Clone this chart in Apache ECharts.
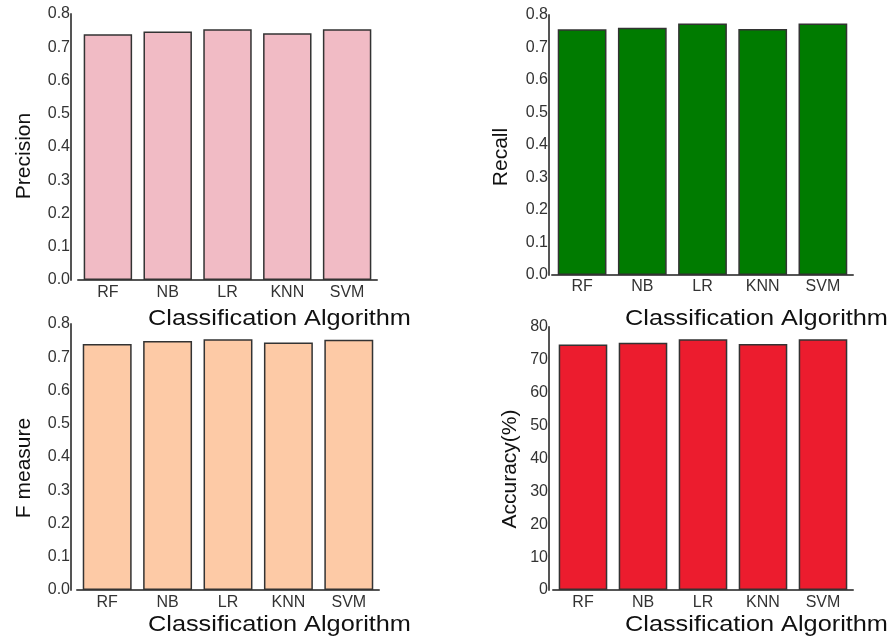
<!DOCTYPE html>
<html>
<head>
<meta charset="utf-8">
<script src="https://cdn.jsdelivr.net/npm/echarts@6/dist/echarts.min.js"></script>
<style>html,body{margin:0;padding:0;background:#fff}#c{width:896px;height:640px}</style>
</head>
<body>
<div id="c"></div>
<script>
const categories = ['RF', 'NB', 'LR', 'KNN', 'SVM'];
const precision = [0.739, 0.747, 0.754, 0.742, 0.754];
const recall = [0.756, 0.761, 0.774, 0.757, 0.774];
const fMeasure = [0.740, 0.749, 0.754, 0.744, 0.753];
const accuracy = [74.7, 75.2, 76.3, 74.8, 76.3];
const ratioTicks = { min: 0, max: 0.8, interval: 0.1 };
const accTicks = { min: 0, max: 80, interval: 10 };
const yNames = ['Precision', 'Recall', 'F measure', 'Accuracy(%)'];
const xName = 'Classification Algorithm';

const FONT = '"Liberation Sans", Arial, sans-serif';
const grids = [
  { left: 78, top: 14, width: 299, height: 266 },
  { left: 552, top: 15, width: 301, height: 260 },
  { left: 77, top: 324, width: 302, height: 266 },
  { left: 553, top: 327, width: 300, height: 263 }
];
const yOffsets = [7, 3, 6, 4];
const colors = ['#F1BBC5', '#007B00', '#FDCAA6', '#EC1C2E'];
const seriesData = [precision, recall, fMeasure, accuracy];
const ticks = [ratioTicks, ratioTicks, ratioTicks, accTicks];
const labelMargins = [5, 4, 5, 5];

const xAxes = grids.map((g, i) => ({
  type: 'category', gridIndex: i, data: categories,
  axisTick: { show: false },
  axisLine: { lineStyle: { color: '#555', width: 2 } },
  axisLabel: { color: '#333', fontSize: 16, fontFamily: FONT, margin: labelMargins[i] }
}));
const yAxes = grids.map((g, i) => ({
  type: 'value', gridIndex: i, min: ticks[i].min, max: ticks[i].max, interval: ticks[i].interval,
  offset: yOffsets[i],
  splitLine: { show: false },
  axisTick: { show: false },
  axisLine: { show: true, lineStyle: { color: '#555', width: 2 } },
  axisLabel: {
    color: '#333', fontSize: 16, fontFamily: FONT, margin: 1,
    formatter: v => i === 3 ? String(v) : v.toFixed(1)
  }
}));
const series = grids.map((g, i) => ({
  type: 'bar', xAxisIndex: i, yAxisIndex: i, data: seriesData[i],
  barCategoryGap: '19%',
  itemStyle: { color: colors[i], borderColor: '#333', borderWidth: 1.5 }
}));

const yTitlePos = [[24, 156], [501, 157], [24, 468], [510, 469]];
const xTitlePos = [[148, 319], [625, 319], [148, 625], [625, 625]];
const graphic = [];
yTitlePos.forEach((p, i) => {
  graphic.push({
    type: 'text', x: p[0], y: p[1], rotation: Math.PI / 2,
    style: { text: yNames[i], fontSize: 21, fontFamily: FONT, fill: '#111',
             textAlign: 'center', textVerticalAlign: 'middle' }
  });
});
xTitlePos.forEach(p => {
  graphic.push({
    type: 'text', x: p[0], y: p[1], scaleX: 1.15,
    style: { text: xName, fontSize: 22, fontFamily: FONT, fill: '#111',
             textAlign: 'left', textVerticalAlign: 'middle' }
  });
});

const chart = echarts.init(document.getElementById('c'), null, { renderer: 'canvas' });
chart.setOption({
  animation: false,
  backgroundColor: '#fff',
  grid: grids,
  xAxis: xAxes,
  yAxis: yAxes,
  series: series,
  graphic: graphic
});
</script>
</body>
</html>
